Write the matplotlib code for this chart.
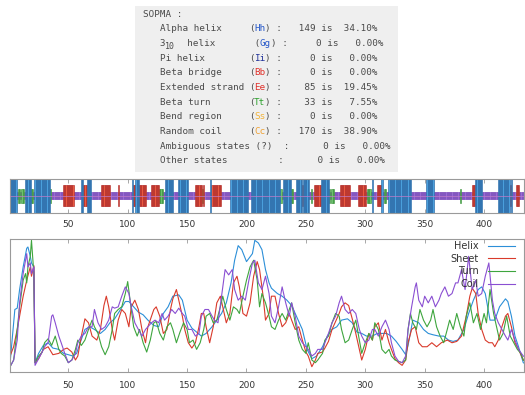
import numpy as np
import matplotlib
matplotlib.use("Agg")
import matplotlib.pyplot as plt
from matplotlib.patches import Rectangle

# SOPMA summary
sum_names = ["Alpha helix", "3_10 helix", "Pi helix", "Beta bridge", "Extended strand",
             "Beta turn", "Bend region", "Random coil", "Ambiguous states", "Other states"]
sum_codes = ["Hh", "Gg", "Ii", "Bb", "Ee", "Tt", "Ss", "Cc", "?", ""]
sum_counts = [149, 0, 0, 0, 85, 33, 0, 170, 0, 0]
sum_pcts = [34.10, 0.00, 0.00, 0.00, 19.45, 7.55, 0.00, 38.90, 0.00, 0.00]

# predicted state per residue, run-length (H helix, E sheet, T turn, C coil)
segments = [("H", 6), ("C", 1), ("T", 2), ("C", 1), ("T", 2), ("C", 1), ("H", 5), ("T", 2),
            ("C", 1), ("H", 13), ("T", 1), ("C", 10), ("E", 9), ("C", 6), ("H", 2), ("E", 3),
            ("H", 4), ("C", 8), ("E", 8), ("C", 6), ("E", 1), ("C", 11), ("H", 1), ("E", 2),
            ("H", 3), ("E", 6), ("C", 4), ("E", 7), ("T", 3), ("C", 2), ("H", 7), ("C", 4),
            ("H", 8), ("C", 6), ("E", 6), ("T", 1), ("E", 1), ("C", 5), ("H", 1), ("E", 8),
            ("C", 8), ("H", 15), ("C", 2), ("H", 25), ("T", 1), ("C", 1), ("H", 7), ("T", 2),
            ("C", 2), ("H", 5), ("E", 1), ("H", 5), ("C", 2), ("T", 1), ("C", 1), ("E", 6),
            ("H", 7), ("T", 1), ("C", 1), ("T", 2), ("C", 5), ("E", 9), ("C", 6), ("E", 7),
            ("C", 1), ("T", 3), ("C", 1), ("H", 1), ("C", 3), ("E", 4), ("H", 1), ("C", 1),
            ("T", 2), ("C", 2), ("H", 19), ("C", 13), ("H", 6), ("C", 22), ("T", 1), ("C", 9),
            ("E", 3), ("H", 6), ("C", 13), ("H", 10), ("E", 1), ("H", 1), ("C", 3), ("E", 3),
            ("C", 8)]

# profile curves (residue, score)
helix_res = [1, 5, 7, 9, 12, 15, 16, 18, 19, 21, 22, 25, 29, 33, 37, 42, 46, 50, 54, 57,
             60, 64, 68, 72, 77, 81, 85, 89, 94, 98, 101, 105, 109, 113, 117, 122, 126, 130, 134, 138,
             143, 146, 150, 154, 158, 162, 166, 171, 175, 179, 183, 187, 190, 193, 196, 200, 205, 207, 210, 213,
             216, 219, 221, 226, 230, 234, 238, 242, 247, 251, 255, 259, 264, 268, 272, 276, 280, 285, 289, 293,
             297, 301, 306, 310, 314, 318, 322, 326, 331, 334, 336, 340, 345, 349, 353, 357, 362, 366, 370, 374,
             378, 383, 387, 391, 395, 398, 401, 405, 409, 413, 418, 420, 423, 426, 429, 433, 437]
helix_val = [0.07, 0.47, 0.48, 0.62, 0.79, 0.93, 0.94, 0.87, 0.82, 0.79, 0.07, 0.14, 0.20, 0.22, 0.18, 0.17, 0.14, 0.13, 0.12, 0.14,
             0.22, 0.32, 0.34, 0.32, 0.29, 0.32, 0.37, 0.40, 0.47, 0.53, 0.53, 0.49, 0.45, 0.43, 0.39, 0.35, 0.34, 0.44, 0.49, 0.57,
             0.58, 0.54, 0.39, 0.33, 0.30, 0.27, 0.29, 0.34, 0.39, 0.44, 0.52, 0.67, 0.84, 0.95, 0.92, 0.83, 0.89, 0.99, 0.97, 0.92,
             0.77, 0.67, 0.63, 0.59, 0.57, 0.54, 0.50, 0.42, 0.32, 0.17, 0.10, 0.12, 0.19, 0.27, 0.32, 0.34, 0.39, 0.40, 0.37, 0.30,
             0.29, 0.27, 0.27, 0.29, 0.29, 0.29, 0.27, 0.23, 0.17, 0.13, 0.20, 0.39, 0.37, 0.32, 0.29, 0.28, 0.27, 0.27, 0.24, 0.23,
             0.24, 0.32, 0.44, 0.54, 0.62, 0.64, 0.59, 0.39, 0.39, 0.49, 0.55, 0.53, 0.42, 0.27, 0.19, 0.07, 0.05]

sheet_res = [1, 4, 7, 9, 12, 15, 18, 19, 21, 22, 25, 29, 33, 37, 42, 46, 49, 53, 56, 58,
             61, 64, 67, 70, 74, 77, 80, 82, 84, 87, 89, 92, 95, 98, 101, 103, 106, 109, 112, 115,
             117, 122, 124, 127, 130, 133, 136, 138, 141, 143, 146, 148, 151, 154, 157, 160, 162, 164, 166, 169,
             172, 175, 178, 180, 183, 186, 189, 192, 194, 197, 200, 203, 206, 209, 211, 214, 216, 219, 221, 224,
             227, 230, 233, 236, 238, 241, 244, 247, 250, 252, 255, 258, 260, 264, 266, 269, 272, 275, 278, 280,
             283, 286, 289, 292, 295, 297, 300, 303, 306, 308, 311, 314, 317, 320, 322, 325, 328, 331, 334, 336,
             339, 342, 345, 348, 352, 356, 360, 364, 369, 373, 377, 381, 385, 388, 390, 393, 395, 398, 401, 404,
             407, 409, 412, 415, 418, 420, 423, 426, 429, 433, 437]
sheet_val = [0.12, 0.19, 0.32, 0.42, 0.57, 0.69, 0.79, 0.72, 0.80, 0.07, 0.10, 0.17, 0.19, 0.13, 0.14, 0.17, 0.18, 0.15, 0.09, 0.12,
             0.27, 0.40, 0.37, 0.27, 0.24, 0.32, 0.50, 0.57, 0.49, 0.32, 0.24, 0.39, 0.47, 0.44, 0.34, 0.49, 0.54, 0.47, 0.32, 0.22,
             0.34, 0.47, 0.49, 0.42, 0.29, 0.32, 0.47, 0.55, 0.62, 0.54, 0.42, 0.32, 0.22, 0.18, 0.22, 0.34, 0.44, 0.44, 0.34, 0.22,
             0.34, 0.52, 0.57, 0.49, 0.37, 0.44, 0.67, 0.72, 0.64, 0.44, 0.42, 0.52, 0.72, 0.83, 0.77, 0.57, 0.39, 0.44, 0.57, 0.57,
             0.44, 0.34, 0.37, 0.44, 0.39, 0.32, 0.34, 0.24, 0.15, 0.12, 0.04, 0.09, 0.14, 0.15, 0.18, 0.23, 0.32, 0.38, 0.44, 0.49,
             0.52, 0.50, 0.40, 0.29, 0.17, 0.09, 0.17, 0.29, 0.24, 0.34, 0.37, 0.24, 0.32, 0.22, 0.17, 0.10, 0.07, 0.05, 0.09, 0.22,
             0.32, 0.34, 0.22, 0.19, 0.19, 0.22, 0.19, 0.22, 0.24, 0.22, 0.23, 0.27, 0.42, 0.57, 0.63, 0.59, 0.44, 0.32, 0.24, 0.22,
             0.22, 0.19, 0.24, 0.34, 0.42, 0.44, 0.34, 0.22, 0.17, 0.09, 0.07]

turn_res = [1, 4, 7, 9, 11, 12, 14, 15, 16, 18, 19, 21, 22, 25, 28, 30, 33, 36, 39, 42,
            44, 47, 50, 53, 56, 58, 61, 64, 67, 70, 72, 75, 78, 81, 84, 87, 89, 92, 95, 98,
            100, 102, 105, 108, 110, 113, 116, 119, 122, 124, 127, 130, 133, 136, 138, 141, 144, 147, 150, 152,
            155, 158, 161, 164, 166, 169, 172, 175, 178, 180, 183, 186, 189, 192, 194, 197, 200, 203, 206, 209,
            211, 213, 216, 219, 221, 224, 227, 230, 233, 236, 238, 241, 244, 247, 250, 252, 255, 258, 260, 264,
            266, 269, 272, 275, 278, 280, 283, 286, 289, 292, 295, 297, 300, 303, 306, 308, 311, 314, 317, 320,
            322, 325, 328, 331, 334, 336, 338, 340, 343, 346, 349, 352, 355, 357, 360, 363, 366, 369, 371, 374,
            377, 380, 383, 385, 388, 391, 394, 397, 400, 402, 405, 408, 411, 413, 416, 419, 422, 425, 428, 431,
            433, 437]
turn_val = [0.04, 0.09, 0.32, 0.49, 0.62, 0.69, 0.74, 0.67, 0.79, 0.87, 0.99, 0.74, 0.07, 0.12, 0.15, 0.22, 0.25, 0.20, 0.27, 0.17,
            0.14, 0.12, 0.07, 0.09, 0.17, 0.24, 0.20, 0.24, 0.32, 0.39, 0.34, 0.29, 0.19, 0.13, 0.19, 0.32, 0.44, 0.47, 0.49, 0.59,
            0.68, 0.54, 0.34, 0.27, 0.32, 0.22, 0.15, 0.24, 0.37, 0.38, 0.29, 0.24, 0.34, 0.37, 0.32, 0.22, 0.30, 0.37, 0.32, 0.22,
            0.24, 0.17, 0.22, 0.32, 0.42, 0.44, 0.37, 0.39, 0.49, 0.57, 0.47, 0.39, 0.49, 0.47, 0.44, 0.57, 0.69, 0.79, 0.84, 0.69,
            0.49, 0.59, 0.52, 0.42, 0.34, 0.32, 0.39, 0.44, 0.39, 0.47, 0.52, 0.37, 0.24, 0.17, 0.14, 0.22, 0.09, 0.07, 0.09, 0.14,
            0.24, 0.27, 0.37, 0.44, 0.42, 0.32, 0.22, 0.24, 0.32, 0.39, 0.24, 0.14, 0.22, 0.29, 0.24, 0.37, 0.32, 0.17, 0.14, 0.17,
            0.12, 0.09, 0.08, 0.07, 0.09, 0.32, 0.44, 0.37, 0.32, 0.47, 0.39, 0.34, 0.39, 0.47, 0.34, 0.27, 0.22, 0.32, 0.39, 0.32,
            0.44, 0.34, 0.27, 0.42, 0.52, 0.37, 0.44, 0.32, 0.44, 0.37, 0.62, 0.44, 0.32, 0.24, 0.29, 0.42, 0.27, 0.22, 0.17, 0.14,
            0.09, 0.07]

coil_res = [1, 4, 7, 9, 12, 14, 15, 16, 18, 19, 21, 22, 25, 28, 30, 33, 36, 37, 39, 42,
            44, 47, 50, 53, 56, 58, 61, 64, 67, 70, 72, 75, 78, 81, 84, 87, 89, 92, 95, 98,
            101, 103, 106, 109, 112, 115, 117, 120, 123, 126, 129, 131, 134, 137, 140, 143, 146, 148, 151, 154,
            157, 160, 162, 165, 168, 171, 173, 176, 179, 182, 185, 188, 190, 193, 196, 199, 202, 205, 207, 210,
            213, 216, 219, 221, 224, 227, 230, 233, 236, 238, 241, 244, 247, 250, 252, 255, 258, 260, 264, 266,
            269, 272, 275, 278, 280, 283, 286, 289, 292, 295, 297, 300, 303, 306, 308, 311, 314, 317, 320, 322,
            325, 328, 331, 334, 336, 339, 342, 343, 345, 348, 350, 353, 356, 359, 362, 364, 367, 370, 373, 376,
            378, 381, 384, 387, 390, 393, 395, 398, 401, 404, 407, 409, 412, 415, 418, 420, 423, 426, 429, 433,
            437]
coil_val = [0.04, 0.09, 0.24, 0.52, 0.74, 0.84, 0.89, 0.79, 0.82, 0.74, 0.79, 0.05, 0.10, 0.15, 0.19, 0.22, 0.42, 0.43, 0.37, 0.27,
            0.22, 0.14, 0.07, 0.09, 0.14, 0.22, 0.27, 0.29, 0.34, 0.34, 0.47, 0.37, 0.32, 0.34, 0.39, 0.49, 0.48, 0.49, 0.57, 0.64,
            0.59, 0.49, 0.37, 0.32, 0.27, 0.32, 0.34, 0.37, 0.39, 0.37, 0.44, 0.39, 0.42, 0.47, 0.44, 0.48, 0.44, 0.42, 0.32, 0.32,
            0.27, 0.29, 0.42, 0.47, 0.47, 0.42, 0.39, 0.37, 0.57, 0.77, 0.73, 0.77, 0.62, 0.54, 0.57, 0.54, 0.69, 0.82, 0.84, 0.67,
            0.62, 0.72, 0.59, 0.42, 0.37, 0.49, 0.64, 0.52, 0.42, 0.52, 0.42, 0.27, 0.22, 0.19, 0.17, 0.12, 0.14, 0.17, 0.17, 0.22,
            0.29, 0.37, 0.42, 0.52, 0.57, 0.47, 0.44, 0.47, 0.44, 0.32, 0.27, 0.22, 0.24, 0.32, 0.32, 0.27, 0.34, 0.39, 0.32, 0.22,
            0.12, 0.08, 0.07, 0.12, 0.32, 0.49, 0.64, 0.67, 0.54, 0.49, 0.57, 0.52, 0.57, 0.49, 0.54, 0.59, 0.64, 0.57, 0.59, 0.67,
            0.67, 0.77, 0.62, 0.87, 0.62, 0.69, 0.57, 0.59, 0.72, 0.82, 0.54, 0.44, 0.37, 0.32, 0.27, 0.24, 0.32, 0.24, 0.17, 0.12,
            0.10]

xticks = [50, 100, 150, 200, 250, 300, 350, 400]

# colours
c_helix, c_sheet, c_turn, c_coil = "#2c8fd8", "#d93a2b", "#3ea53e", "#8a4fd2"
frame_c = "#9a9a9a"
txt_c = "#4a4a4a"

W, H = 525, 395
fig = plt.figure(figsize=(W / 100, H / 100), dpi=100)

# ---- text block (pixel coords) ----
axt = fig.add_axes([0, 0, 1, 1])
axt.set_xlim(0, W)
axt.set_ylim(H, 0)
axt.axis("off")
axt.add_patch(Rectangle((135, 6), 263, 166, facecolor="#efefef", edgecolor="none"))

cw = 5.55                      # px per monospace char
fs = cw / 0.602 * 0.72         # font size in pt
x0, y0, dy = 143, 14.3, 14.64
code_col = {"Hh": "#2456c8", "Gg": "#2456c8", "Ii": "#22339a", "Bb": "#e0302a",
            "Ee": "#e0302a", "Tt": "#2aa02a", "Ss": "#f2b43a", "Cc": "#f0a030"}


def put(row, col, s, color=txt_c, size=fs, yoff=0):
    axt.text(x0 + col * cw, y0 + row * dy + yoff, s, fontsize=size, color=color,
             family="DejaVu Sans Mono", ha="left", va="center")


put(0, 0, "SOPMA :")
for i, (nm, cd, n, p) in enumerate(zip(sum_names, sum_codes, sum_counts, sum_pcts)):
    row = i + 1
    if nm == "3_10 helix":
        put(row, 3, "3")
        put(row, 4, "10", size=fs * 0.9, yoff=2.5)
        pre = "  helix" + " " * 7 + "("
        put(row, 6, pre)
        c = 6 + len(pre)
        put(row, c, cd, code_col[cd])
        put(row, c + 2, ") : %5d is %6.2f%%" % (n, p))
    elif cd == "?":
        put(row, 3, "%s (?)  :      %d is   %.2f%%" % (nm, n, p))
    elif cd == "":
        put(row, 3, "%s" % nm + " " * 9 + ":" + " " * 6 + "%d is   %.2f%%" % (n, p))
    else:
        pre = "%-16s(" % nm
        put(row, 3, pre)
        put(row, 3 + len(pre), cd, code_col[cd])
        put(row, 3 + len(pre) + 2, ") : %5d is %6.2f%%" % (n, p))

# ---- state bar ----
left, right = 9.5, 524
xl = (0.5, 433.6)
ax1 = fig.add_axes([left / W, 1 - 212.7 / H, (right - left) / W, 33.7 / H])
half = {"H": 0.5, "E": 0.31, "T": 0.2, "C": 0.1}
face = {"H": "#4a9fdc", "E": "#ea5a40", "T": "#6cc26c", "C": "#9a6ad6"}
edge = {"H": "#1d5c9c", "E": "#a81e1e", "T": "#2e8a2e", "C": "#7444b4"}
states = "".join(s * n for s, n in segments)
res = np.arange(1, len(states) + 1)
for s in "CTEH":
    m = np.array([c == s for c in states])
    ax1.bar(res[m], 2 * half[s], bottom=0.5 - half[s], width=1.0,
            color=face[s], edgecolor=edge[s], linewidth=0.4, zorder=2)
ax1.axhline(0.5, color="#c07cc8", lw=0.5, zorder=3)
ax1.set_xlim(*xl)
ax1.set_ylim(0, 1)
ax1.set_yticks([])

# ---- profile ----
ax2 = fig.add_axes([left / W, 1 - 372 / H, (right - left) / W, 133 / H])
ax2.plot(helix_res, helix_val, color=c_helix, lw=0.8, label="Helix")
ax2.plot(sheet_res, sheet_val, color=c_sheet, lw=0.8, label="Sheet")
ax2.plot(turn_res, turn_val, color=c_turn, lw=0.8, label="Turn")
ax2.plot(coil_res, coil_val, color=c_coil, lw=0.8, label="Coil")
ax2.set_xlim(*xl)
ax2.set_ylim(0, 1)
ax2.set_yticks([])
leg = ax2.legend(loc="upper right", bbox_to_anchor=(0.9825, 0.985), frameon=False,
                 markerfirst=False, fontsize=7, handlelength=2.8, handletextpad=0.9,
                 borderpad=0, borderaxespad=0, labelspacing=0.28)
for t in leg.get_texts():
    t.set_color("#333333")

for ax, pad in ((ax1, 5.5), (ax2, 6.5)):
    ax.set_xticks(xticks)
    ax.tick_params(axis="x", direction="in", length=3, width=0.6, color=frame_c,
                   top=True, labelsize=6.5, labelcolor="#333333", pad=pad)
    for sp in ax.spines.values():
        sp.set_color(frame_c)
        sp.set_linewidth(0.8)

fig.savefig("out.png", dpi=100)
